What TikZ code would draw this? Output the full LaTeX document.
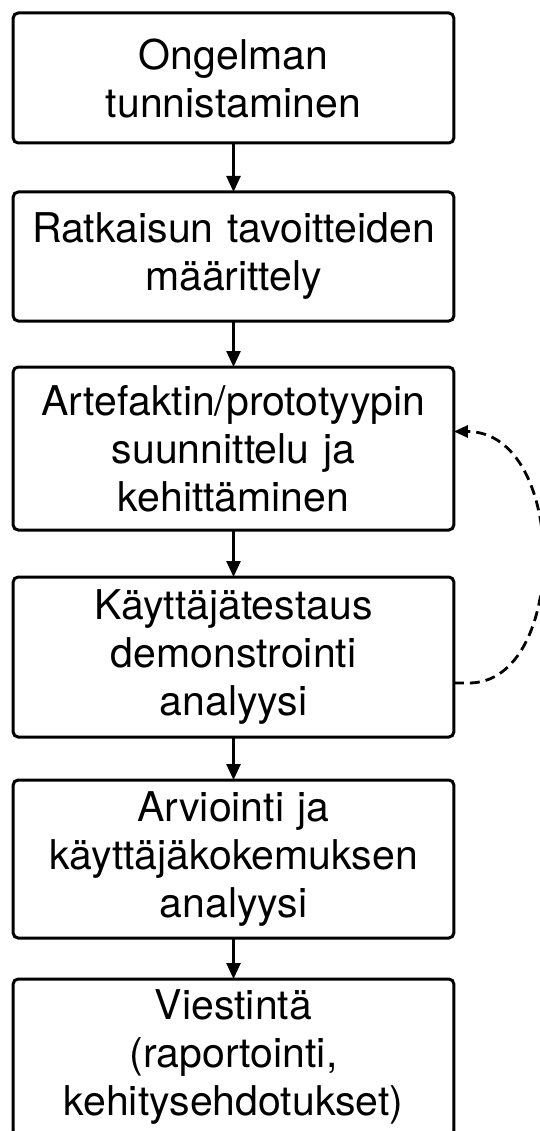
\documentclass[tikz,border=0pt]{standalone}
\usepackage{fontspec}
\setmainfont{TeX Gyre Heros}
\usetikzlibrary{positioning, arrows.meta}
\tikzstyle{stage} = [rectangle, rounded corners=5pt, draw=black, line width=3pt, outer sep=0pt, minimum width=437pt, minimum height=130pt, text width=434pt, align=center, font=\fontsize{41}{48}\selectfont]
\tikzstyle{arrow} = [line width=2.5pt, -{Triangle[length=16pt, width=14pt]}]
\tikzstyle{loopback} = [line width=2.8pt, dash pattern=on 10pt off 6pt, -{Triangle[length=14pt, width=12pt]}]

\begin{document}
\begin{tikzpicture}[x=1pt, y=1pt]
\useasboundingbox (0,0) rectangle (539,-1131);

\node (ident) [stage] at (233.5,-78) {Ongelman\\tunnistaminen};
\node (goals) [stage, below=49pt of ident, minimum height=129pt] {Ratkaisun tavoitteiden\\määrittely};
\node (design) [stage, below=46pt of goals, minimum height=163pt] {Artefaktin/prototyypin\\suunnittelu ja\\kehittäminen};
\node (test) [stage, below=47pt of design, minimum height=160pt] {Käyttäjätestaus\\demonstrointi\\analyysi};
\node (eval) [stage, below=43pt of test, minimum height=158pt] {Arviointi ja\\käyttäjäkokemuksen\\analyysi};
\node (comm) [stage, below=41pt of eval, minimum height=157pt] {Viestintä\\(raportointi,\\kehitysehdotukset)};

%% arrows
\draw [arrow] (ident) -- (goals);
\draw [arrow] (goals) -- (design);
\draw [arrow] (design) -- (test);
\draw [arrow] (test) -- (eval);
\draw [arrow] (eval) -- (comm);

% feedback loop
\draw [loopback] ([yshift=-26pt]test.east) -- ++(15,0) .. controls +(100,0) and +(115,0) .. ([yshift=17pt]design.east);

\end{tikzpicture}
\end{document}
